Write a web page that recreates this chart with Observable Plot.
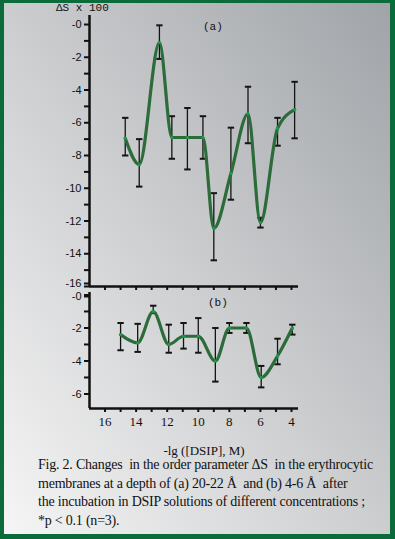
<!DOCTYPE html>
<html><head><meta charset="utf-8">
<script src="https://cdn.jsdelivr.net/npm/d3@7"></script>
<script src="https://cdn.jsdelivr.net/npm/@observablehq/plot@0.6"></script>
<style>
html,body{margin:0;padding:0;}
#page{position:relative;width:395px;height:539px;overflow:hidden;
  background:linear-gradient(to top right,#f6f6f6 0%,#d0d1d3 45%,#9fa3a7 100%);}
#frame{position:absolute;left:0;top:0;width:395px;height:539px;box-sizing:border-box;
  border-style:solid;border-color:#0b6b3b;border-width:3px 5px 5px 4px;pointer-events:none;}
.abs{position:absolute;margin:0;white-space:pre;color:#111;}
#ylab{left:56px;top:2px;font:11px "Liberation Mono",monospace;}
#pa{left:203px;top:21px;font:11px "Liberation Mono",monospace;}
#pb{left:208px;top:297px;font:11px "Liberation Mono",monospace;}
#xlab{left:0;width:408px;text-align:center;top:443px;font:13px "Liberation Serif",serif;}
#cap{left:38px;top:456px;font:14px/18.7px "Liberation Serif",serif;letter-spacing:-0.22px;}
</style></head>
<body><div id="page">
<div id="top" class="abs" style="left:0;top:0"></div>
<div id="bot" class="abs" style="left:0;top:280px"></div>
<div id="ylab" class="abs">ΔS x 100</div>
<div id="pa" class="abs">(a)</div>
<div id="pb" class="abs">(b)</div>
<div id="xlab" class="abs">-lg ([DSIP], M)</div>
<div id="cap" class="abs">Fig. 2. Changes  in the order parameter ΔS  in the erythrocytic
membranes at a depth of (a) 20-22 Å  and (b) 4-6 Å  after
the incubation in DSIP solutions of different concentrations ;
*p &lt; 0.1 (n=3).</div>
<div id="frame"></div>
</div>
<script>
// Panel (a): depth 20-22 Å
const topX  = [14.7, 13.8, 12.5, 11.7, 10.7, 9.7, 9.0, 7.9, 6.8, 6.0, 4.9, 3.8];
const topY  = [-6.95, -8.55, -1.1, -6.9, -6.9, -6.9, -12.45, -9.1, -5.45, -12.1, -6.35, -5.2];
const topHi = [-5.7, -7.0, -0.05, -5.6, -5.1, -5.6, -10.3, -6.3, -3.8, -11.8, -5.7, -3.5];
const topLo = [-8.0, -9.9, -2.1, -8.2, -8.85, -8.2, -14.4, -10.7, -7.25, -12.4, -7.4, -6.95];
// Panel (b): depth 4-6 Å
const botX  = [15.0, 13.9, 12.9, 11.9, 10.95, 10.0, 8.9, 8.0, 6.9, 5.95, 4.9, 3.95];
const botY  = [-2.4, -2.9, -1.0, -3.0, -2.5, -2.5, -4.0, -2.0, -2.0, -5.0, -3.7, -2.0];
const botHi = [-1.7, -1.75, -0.65, -1.8, -1.7, -1.4, -2.0, -1.7, -1.7, -4.3, -2.65, -1.8];
const botLo = [-3.35, -3.45, -1.1, -3.5, -3.25, -3.5, -5.25, -2.3, -2.3, -5.6, -4.2, -2.4];
// ticks
const xTicks = [16, 15, 14, 13, 12, 11, 10, 9, 8, 7, 6, 5, 4];
const xLabels = [16, 14, 12, 10, 8, 6, 4];
const topMajor = [0, -2, -4, -6, -8, -10, -12, -14, -16];
const topMinor = [-1, -3, -5, -7, -9, -11, -13, -15];
const botMajor = [0, -2, -4, -6];
const botMinor = [-1, -3, -5];

const xDomain = [17, 3.55];
const lineColor = "#2c6b3a", dotColor = "#17a04b", barColor = "#141414";
const fmt = d => "-" + Math.abs(d);
const style = {background: "transparent", overflow: "visible", fontFamily: "'Liberation Sans', Arial, sans-serif", fontSize: "11px", color: "#111"};
// horizontal cap symbol for error bars
const cap = {draw(ctx, size) { const r = Math.sqrt(size / Math.PI); ctx.moveTo(-r, 0); ctx.lineTo(r, 0); }};

function panel(X, Y, Hi, Lo, yDomain, major, minor, opts) {
  const idx = d3.range(X.length);
  const shifted = opts.shiftTick;
  const plain = major.filter(d => d !== shifted);
  return Plot.plot({
    width: 395, height: opts.height,
    marginLeft: 89, marginRight: 97, marginTop: opts.mt, marginBottom: opts.mb,
    style,
    x: {domain: xDomain, label: null},
    y: {domain: yDomain, label: null},
    marks: [
      Plot.axisY({ticks: plain, tickFormat: fmt, tickSize: 5, tickPadding: 3, strokeWidth: 2, stroke: "#111"}),
      Plot.axisY({ticks: [shifted], tickFormat: fmt, tickSize: 5, tickPadding: 3, strokeWidth: 2, stroke: "#111", dy: opts.shiftDy}),
      Plot.axisY({ticks: [shifted], tickFormat: () => "", tickSize: 5, strokeWidth: 2, stroke: "#111"}),
      Plot.axisY({ticks: minor, tickFormat: () => "", tickSize: 5, strokeWidth: 2, stroke: "#111"}),
      opts.labels
        ? Plot.axisX({ticks: xTicks, tickFormat: d => xLabels.includes(d) ? String(d) : "", tickSize: 4, tickPadding: 4, strokeWidth: 2, stroke: "#111",
            fontFamily: "'Liberation Serif', serif", fontSize: 13})
        : Plot.axisX({ticks: xTicks, tickFormat: () => "", tickSize: 4, strokeWidth: 2, stroke: "#111"}),
      Plot.ruleX([xDomain[0]], {stroke: "#111", strokeWidth: 2.5}),
      Plot.ruleY([yDomain[0]], {stroke: "#111", strokeWidth: 2.5}),
      Plot.link(idx, {x1: i => X[i], x2: i => X[i], y1: i => Lo[i], y2: i => Hi[i], stroke: barColor, strokeWidth: 1.3}),
      Plot.dot(idx, {x: i => X[i], y: i => Lo[i], symbol: cap, r: 3.2, stroke: barColor, strokeWidth: 2, fill: "none"}),
      Plot.dot(idx, {x: i => X[i], y: i => Hi[i], symbol: cap, r: 3.2, stroke: barColor, strokeWidth: 2, fill: "none"}),
      Plot.line(idx, {x: i => X[i], y: i => Y[i], curve: "monotone-x", stroke: lineColor, strokeWidth: 3.2}),
      Plot.dot(idx, {x: i => X[i], y: i => Y[i], r: 1.5, fill: dotColor, stroke: "none"})
    ]
  });
}

document.getElementById("top").appendChild(
  panel(topX, topY, topHi, topLo, [-16, 0.55], topMajor, topMinor, {height: 300, mt: 15, mb: 14, labels: false, shiftTick: -16, shiftDy: -3}));
document.getElementById("bot").appendChild(
  panel(botX, botY, botHi, botLo, [-6.88, 0.15], botMajor, botMinor, {height: 160, mt: 12, mb: 32, labels: true, shiftTick: 0, shiftDy: 1.5}));
</script>
</body></html>
